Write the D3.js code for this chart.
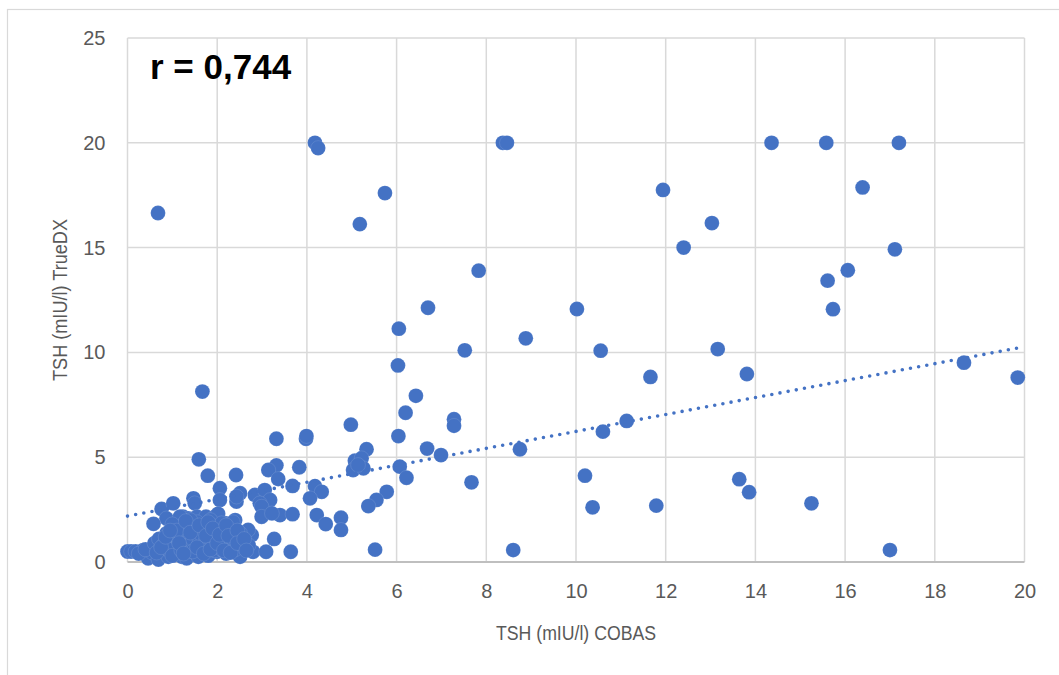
<!DOCTYPE html>
<html>
<head>
<meta charset="utf-8">
<script src="https://cdn.jsdelivr.net/npm/d3@7"></script>
<style>
  html, body { margin: 0; padding: 0; background: #ffffff; }
  svg { display: block; }
</style>
</head>
<body>
<div id="chart"></div>
<script>
// TSH measured with COBAS (x) versus TrueDX (y), one point per sample
const cobas = [
  // high TrueDX values
  0.68, 4.18, 4.25, 5.74, 5.18, 8.37, 8.46, 11.94, 13.03, 12.40, 14.36, 15.58, 17.20, 16.39, 17.11, 16.06,
  15.61, 15.73, 7.83, 10.02, 6.70, 6.05, 8.88, 7.52, 10.55, 13.16, 6.03, 11.66, 13.81, 18.65, 19.85, 1.67,
  // middle range
  6.43, 6.20, 4.98, 7.28, 7.28, 6.04, 5.33, 6.68, 6.99, 5.07, 5.22, 5.03, 5.26, 5.14, 6.07, 6.22,
  7.67, 5.78, 5.55, 5.37, 4.18, 4.33, 4.22, 4.42, 4.76, 4.76, 5.52, 8.75, 10.60, 11.13, 10.20, 13.64,
  13.86, 10.37, 11.79, 8.60, 15.25, 17.00,
  // 2 to 4.1
  3.32, 3.98, 3.99, 3.32, 3.14, 3.83, 3.36, 3.68, 4.07, 2.84, 3.06, 3.18, 2.95, 2.99, 2.99, 3.40,
  3.68, 3.22, 2.77, 3.27, 2.80, 3.09, 3.64, 1.59, 1.79, 2.42, 2.06, 2.06, 2.51, 2.43, 2.43, 2.17,
  2.40, 2.69, 2.51, 2.17, 2.25, 2.55, 1.99, 2.51,
  // low range
  0.76, 0.87, 1.02, 0.58, 1.47, 1.50, 1.24, 1.36, 0.87, 1.55, 1.75, 1.95, 2.02, 1.17,
  0.00, 0.08, 0.18, 0.35, 0.46, 0.55, 0.69, 0.80, 0.91, 1.00, 1.10, 1.21, 1.32, 1.40, 1.50, 1.58,
  1.70, 1.80, 1.95, 2.10, 2.20, 0.25, 0.40,
  0.60, 0.70, 0.80, 0.95, 1.05, 1.10, 1.15, 1.20, 1.25, 1.30, 1.35, 1.45, 1.50, 1.55, 1.60, 1.65,
  1.70, 1.75, 1.80, 1.85, 1.90, 1.95, 2.00, 2.05, 2.10, 2.15, 2.20, 2.30, 2.35, 2.40, 1.40, 1.00,
  0.90, 2.60, 2.70, 2.35, 1.85, 1.30,
  0.65, 0.75, 0.85, 1.00, 1.10, 1.20, 1.30, 1.40, 1.45, 1.55, 1.60, 1.70, 1.75, 1.80, 1.85, 1.90,
  2.00, 2.05, 2.15, 2.20, 2.25, 2.30, 2.45, 2.45, 2.60, 2.65, 1.15, 0.95, 1.25
];
const truedx = [
  16.65, 20.00, 19.75, 17.60, 16.12, 20.00, 20.00, 17.75, 16.17, 15.00, 20.00, 20.00, 20.00, 17.87, 14.92, 13.92,
  13.42, 12.06, 13.90, 12.07, 12.13, 11.13, 10.67, 10.10, 10.08, 10.16, 9.38, 8.83, 8.97, 9.51, 8.80, 8.13,
  7.93, 7.12, 6.55, 6.81, 6.50, 6.01, 5.38, 5.41, 5.10, 4.83, 4.95, 4.39, 4.47, 4.63, 4.55, 4.02,
  3.80, 3.35, 2.96, 2.67, 3.62, 3.35, 2.24, 1.81, 2.11, 1.53, 0.59, 5.38, 6.22, 6.73, 4.12, 3.95,
  3.33, 2.61, 2.69, 0.57, 2.80, 0.57,
  5.88, 5.88, 6.01, 4.61, 4.39, 4.52, 3.96, 3.63, 3.04, 3.20, 3.43, 2.96, 2.80, 2.64, 2.16, 2.24,
  2.28, 2.32, 1.29, 1.10, 0.49, 0.49, 0.49, 4.90, 4.12, 4.15, 3.52, 2.96, 3.28, 2.88, 3.12, 1.85,
  2.00, 1.53, 1.37, 1.21, 0.73, 0.73, 0.49, 0.25,
  2.53, 2.08, 2.80, 1.82, 3.04, 2.80, 2.16, 2.08, 1.37, 2.16, 2.16, 2.16, 2.30, 2.16,
  0.50, 0.50, 0.50, 0.57, 0.18, 0.45, 0.12, 0.60, 0.25, 0.55, 0.40, 0.25, 0.18, 0.60, 0.45, 0.25,
  0.55, 0.30, 0.55, 0.60, 0.40, 0.40, 0.60,
  0.90, 1.10, 0.80, 1.00, 1.30, 0.70, 1.60, 1.00, 1.80, 1.30, 0.80, 1.10, 1.50, 1.90, 0.90, 1.30,
  1.70, 1.00, 1.40, 2.00, 0.80, 1.20, 1.60, 1.00, 1.85, 1.40, 0.90, 1.60, 1.10, 0.60, 2.00, 1.80,
  0.60, 1.00, 0.80, 1.90, 1.10, 1.55,
  0.45, 0.70, 1.20, 0.30, 1.50, 0.55, 1.95, 1.40, 0.50, 0.70, 1.75, 0.40, 1.25, 1.90, 0.60, 1.60,
  0.90, 1.30, 0.55, 1.75, 1.25, 0.45, 1.50, 0.90, 1.10, 0.55, 0.90, 1.50, 0.40
];

// Linear trend line end points (COBAS, TrueDX)
const trendX = [0, 20];
const trendY = [2.19, 10.27];

const xTicks = [0, 2, 4, 6, 8, 10, 12, 14, 16, 18, 20];
const yTicks = [0, 5, 10, 15, 20, 25];

const correlationLabel = "r = 0,744";
const xTitle = "TSH (mIU/l) COBAS";
const yTitle = "TSH (mIU/l) TrueDX";

const W = 1059, H = 675;
const plot = { left: 127.5, right: 1024.5, top: 38, bottom: 562 };
const blue = "#4472C4";
const labelFont = "'Liberation Sans', Arial, sans-serif";

const svg = d3.select("#chart").append("svg")
  .attr("width", W).attr("height", H);

// chart frame
svg.append("rect")
  .attr("x", 7.5).attr("y", 9.5)
  .attr("width", W + 20).attr("height", H + 20)
  .attr("fill", "#ffffff")
  .attr("stroke", "#d9d9d9").attr("stroke-width", 1.2);

const x = d3.scaleLinear().domain([0, 20]).range([plot.left, plot.right]);
const y = d3.scaleLinear().domain([0, 25]).range([plot.bottom, plot.top]);

// grid
const grid = svg.append("g");
grid.selectAll("line.v").data(xTicks).join("line")
  .attr("class", "v")
  .attr("x1", d => x(d)).attr("x2", d => x(d))
  .attr("y1", plot.top).attr("y2", plot.bottom)
  .attr("stroke", "#d9d9d9").attr("stroke-width", 1.5);
grid.selectAll("line.h").data(yTicks.filter(d => d > 0)).join("line")
  .attr("class", "h")
  .attr("x1", plot.left).attr("x2", plot.right)
  .attr("y1", d => y(d)).attr("y2", d => y(d))
  .attr("stroke", "#d9d9d9").attr("stroke-width", 1.5);

// axes (labels only, baseline drawn separately)
const xAxis = svg.append("g")
  .attr("transform", `translate(0,${plot.bottom})`)
  .call(d3.axisBottom(x).tickValues(xTicks).tickSize(0).tickPadding(22).tickFormat(d3.format("d")));
const yAxis = svg.append("g")
  .attr("transform", `translate(${plot.left},0)`)
  .call(d3.axisLeft(y).tickValues(yTicks).tickSize(0).tickPadding(22).tickFormat(d3.format("d")));
[xAxis, yAxis].forEach(a => {
  a.select(".domain").remove();
  a.selectAll("text")
    .attr("fill", "#595959")
    .style("font-family", labelFont)
    .style("font-size", "20px");
});

// horizontal axis line
svg.append("line")
  .attr("x1", plot.left).attr("x2", plot.right)
  .attr("y1", y(0)).attr("y2", y(0))
  .attr("stroke", "#bfbfbf").attr("stroke-width", 1.8);

// data points
svg.append("g").selectAll("circle")
  .data(d3.range(cobas.length))
  .join("circle")
  .attr("cx", i => x(cobas[i]))
  .attr("cy", i => y(truedx[i]))
  .attr("r", 7.4)
  .attr("fill", blue)
  .attr("stroke", "#ffffff").attr("stroke-opacity", 0.18).attr("stroke-width", 0.6);

// dotted trend line
svg.append("path")
  .datum(d3.zip(trendX, trendY))
  .attr("d", d3.line().x(d => x(d[0])).y(d => y(d[1])))
  .attr("fill", "none")
  .attr("stroke", blue)
  .attr("stroke-width", 3.6)
  .attr("stroke-linecap", "round")
  .attr("stroke-dasharray", "0 8.3");

// axis titles
svg.append("text")
  .attr("x", (plot.left + plot.right) / 2).attr("y", 640)
  .attr("text-anchor", "middle")
  .attr("textLength", 160).attr("lengthAdjust", "spacingAndGlyphs")
  .attr("fill", "#595959")
  .style("font-family", labelFont).style("font-size", "20px")
  .text(xTitle);
svg.append("text")
  .attr("transform", `translate(67,${(plot.top + plot.bottom) / 2}) rotate(-90)`)
  .attr("text-anchor", "middle")
  .attr("textLength", 162).attr("lengthAdjust", "spacingAndGlyphs")
  .attr("fill", "#595959")
  .style("font-family", labelFont).style("font-size", "20px")
  .text(yTitle);

// correlation coefficient
svg.append("text")
  .attr("x", 150).attr("y", 79)
  .attr("fill", "#000000")
  .style("font-family", "'Liberation Sans', Arial, sans-serif")
  .style("font-weight", "bold").style("font-size", "35px")
  .text(correlationLabel);
</script>
</body>
</html>
